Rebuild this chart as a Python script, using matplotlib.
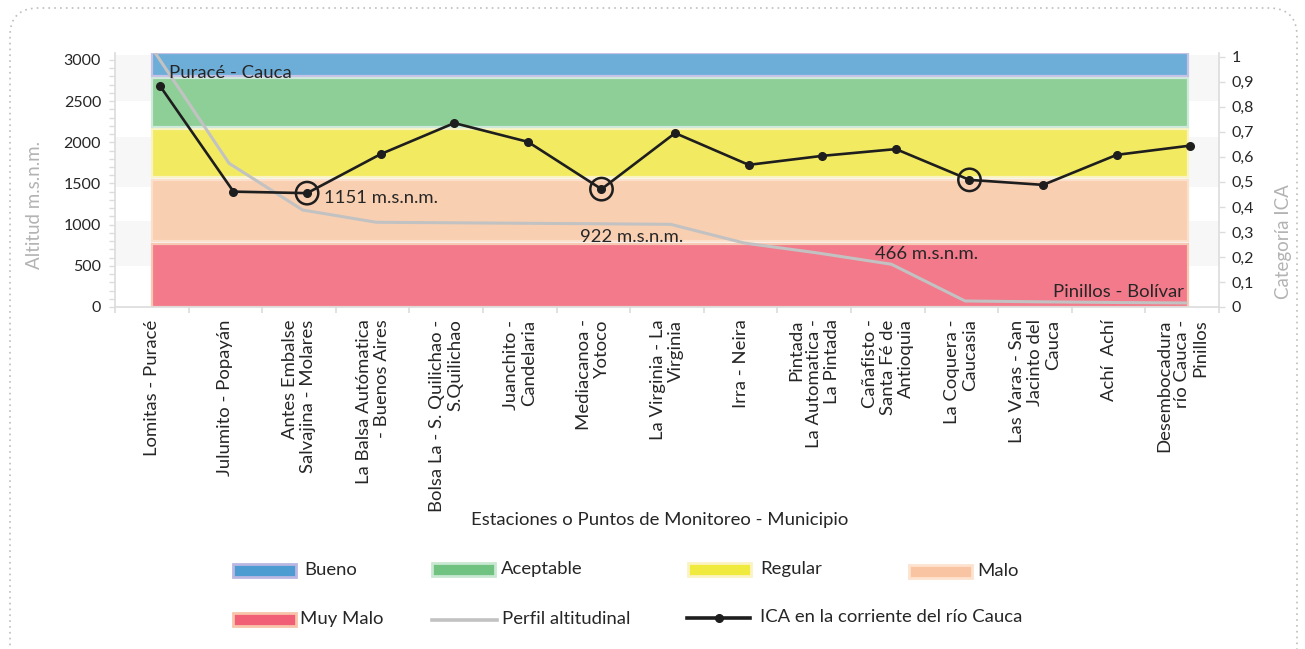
import matplotlib
matplotlib.use('Agg')
import matplotlib.pyplot as plt
import numpy as np
from matplotlib.patches import Rectangle, FancyBboxPatch
from matplotlib.lines import Line2D
from matplotlib.transforms import IdentityTransform
from matplotlib.ticker import MultipleLocator, FixedLocator

plt.rcParams['font.family'] = ['Lato', 'DejaVu Sans']

# ---------------- data ----------------
stations = [
    "Lomitas - Puracé",
    "Julumito - Popayán",
    "Antes Embalse\nSalvajina - Molares",
    "La Balsa Autómatica\n- Buenos Aires",
    "Bolsa La - S. Quilichao -\nS.Quilichao",
    "Juanchito -\nCandelaria",
    "Mediacanoa -\nYotoco",
    "La Virginia - La\nVirginia",
    "Irra - Neira",
    "Pintada\nLa Automatica -\nLa Pintada",
    "Cañafisto -\nSanta Fé de\nAntioquia",
    "La Coquera -\nCaucasia",
    "Las Varas - San\nJacinto del\nCauca",
    "Achí  Achí",
    "Desembocadura\nrío Cauca -\nPinillos",
]
altitud = [3081, 1745, 1178, 1029, 1023, 1017, 1011, 1004, 777, 656, 519, 73, 63, 55, 49]
ica = [0.884, 0.461, 0.455, 0.611, 0.735, 0.660, 0.471, 0.695, 0.568, 0.604,
       0.631, 0.508, 0.488, 0.608, 0.645]
highlight = [2, 6, 11]

cat_names = ["Muy Malo", "Malo", "Regular", "Aceptable", "Bueno"]
cat_low = [0.00, 0.26, 0.51, 0.71, 0.91]
cat_high = [0.25, 0.50, 0.70, 0.90, 1.00]

ann_texts = ["Puracé - Cauca", "1151 m.s.n.m.", "922 m.s.n.m.", "466 m.s.n.m.", "Pinillos - Bolívar"]
ann_index = [0, 2, 6, 10, 14]

alt_ticks = [0, 500, 1000, 1500, 2000, 2500, 3000]
ica_ticks = [0, 0.1, 0.2, 0.3, 0.4, 0.5, 0.6, 0.7, 0.8, 0.9, 1.0]
ica_ticklabels = ["0", "0,1", "0,2", "0,3", "0,4", "0,5", "0,6", "0,7", "0,8", "0,9", "1"]

# ---------------- styles ----------------
band_fill = ["#f27a8a", "#f9cfb2", "#f2eb62", "#8ecf98", "#6daed9"]
band_edge = ["#f8c9b2", "#fbe0cc", "#faf4c4", "#cfeadb", "#c6c3e6"]
leg_fill = ["#f05f76", "#f9c4a2", "#f0ea3e", "#6fc27f", "#4c9bd1"]
leg_edge = ["#f8c4aa", "#fde2cf", "#fbf3c2", "#c9e8d2", "#bab7e2"]
text_c = "#262626"
axis_c = "#dcdcdc"
title_c = "#b3b3b3"
FS = 13.3

W, H = 1305, 649
fig = plt.figure(figsize=(W / 100, H / 100), dpi=100)
fig.patch.set_facecolor("white")

def fx(x):
    return x / W

def fy(y):
    return 1 - y / H

ax = fig.add_axes([fx(115), fy(307), (1219 - 115) / W, (307 - 53) / H])
ax.set_facecolor("none")
ax2 = ax.twinx()

n = len(stations)
xs = np.arange(n)

# background light stripes (axes fraction)
for lo, hi in [(0.161, 0.340), (0.471, 0.668), (0.812, 0.992)]:
    ax.add_patch(Rectangle((0, lo), 1, hi - lo, transform=ax.transAxes,
                           facecolor="#f7f7f7", lw=0, zorder=0.2))

# category bands in axes-fraction heights
xtr = ax.get_xaxis_transform()
for lo, hi, fc, ec in zip(cat_low, cat_high, band_fill, band_edge):
    ax.add_patch(Rectangle((0.0, lo), 14.08, hi - lo, transform=xtr,
                           facecolor=fc, edgecolor=ec, lw=1.6, zorder=1))

# altitude profile
alt_x = xs + 0.05
ax.plot(alt_x, altitud, color="#c2c2c2", lw=2.2, zorder=3, solid_joinstyle="round")
ax.set_xlim(-0.5, n - 0.5)
ax.set_ylim(0, 3085)

# ICA line
ica_x = xs + 0.11
ax2.plot(ica_x, ica, color="#1e1e1e", lw=1.9, marker="o", ms=5.5, zorder=5)
ax2.scatter([ica_x[i] for i in highlight], [ica[i] for i in highlight], s=260,
            facecolors="none", edgecolors="#1e1e1e", linewidths=1.8, zorder=6)
ax2.set_ylim(0, 1.015)

# annotations
offsets = [(10, -14.5), (15.5, 8.6), (-12.2, -9.4), (-12.2, 7.2), (-1.4, 7.9)]
has = ["left", "left", "left", "left", "right"]
for t, i, off, ha in zip(ann_texts, ann_index, offsets, has):
    ax.annotate(t, xy=(alt_x[i], altitud[i]), xytext=off, textcoords="offset points",
                ha=ha, va="center", fontsize=FS, color=text_c, zorder=7)

# axes styling
ax.spines["top"].set_visible(False)
ax2.spines["top"].set_visible(False)
ax.spines["right"].set_visible(False)
ax2.spines["left"].set_visible(False)
ax2.spines["bottom"].set_visible(False)
ax.spines["left"].set_color(axis_c)
ax.spines["bottom"].set_color(axis_c)
ax2.spines["right"].set_color(axis_c)
for s in (ax.spines["left"], ax.spines["bottom"], ax2.spines["right"]):
    s.set_linewidth(1.2)

ax.yaxis.set_major_locator(FixedLocator(alt_ticks))
ax.yaxis.set_minor_locator(MultipleLocator(100))
ax.tick_params(axis="y", which="major", length=4, width=1, color=axis_c,
               labelsize=11.5, labelcolor=text_c, pad=6)
ax.tick_params(axis="y", which="minor", length=4, width=1, color=axis_c)

ax.set_xticks(xs)
ax.set_xticklabels(stations, rotation=90, ha="center", va="top",
                   multialignment="right", fontsize=FS, color=text_c,
                   linespacing=1.15)
ax.set_xticks(np.arange(-0.5, n, 1.0), minor=True)
ax.tick_params(axis="x", which="major", length=0, pad=9)
ax.tick_params(axis="x", which="minor", length=4, width=1.2, color=axis_c)

ax2.set_yticks(ica_ticks)
ax2.set_yticklabels(ica_ticklabels)
ax2.tick_params(axis="y", length=4, width=1, color=axis_c, labelsize=11.5,
                labelcolor=text_c, pad=5)

# axis titles
fig.text(fx(35), fy(205), "Altitud m.s.n.m.", rotation=90, ha="center", va="center",
         fontsize=13.5, color=title_c)
fig.text(fx(1283), fy(242), "Categoría ICA", rotation=90, ha="center", va="center",
         fontsize=13.5, color=title_c)
fig.text(fx(660), fy(520), "Estaciones o Puntos de Monitoreo - Municipio",
         ha="center", va="center", fontsize=FS, color=text_c)

# legend (manual layout)
leg_patch_pos = {"Bueno": (233, 570, 304), "Aceptable": (432, 569, 501),
                 "Regular": (688, 569, 760), "Malo": (909, 571, 977),
                 "Muy Malo": (233, 619, 300)}
for name, fc, ec in zip(cat_names, leg_fill, leg_edge):
    x0, yc, tx = leg_patch_pos[name]
    fig.add_artist(Rectangle((fx(x0), fy(yc + 6.5)), 63 / W, 13 / H,
                             transform=fig.transFigure, facecolor=fc,
                             edgecolor=ec, lw=2))
    fig.text(fx(tx), fy(yc), name, ha="left", va="center", fontsize=FS, color=text_c)

fig.add_artist(Line2D([fx(432), fx(497)], [fy(620), fy(620)], transform=fig.transFigure,
                      color="#c2c2c2", lw=2.6))
fig.text(fx(502), fy(619), "Perfil altitudinal", ha="left", va="center",
         fontsize=FS, color=text_c)
fig.add_artist(Line2D([fx(687), fx(750)], [fy(618), fy(618)], transform=fig.transFigure,
                      color="#1e1e1e", lw=2.6))
fig.add_artist(Line2D([fx(718.5)], [fy(618)], transform=fig.transFigure,
                      color="#1e1e1e", marker="o", ms=5.5, lw=0))
fig.text(fx(760), fy(617), "ICA en la corriente del río Cauca", ha="left",
         va="center", fontsize=FS, color=text_c)

# dotted rounded frame
frame = FancyBboxPatch((10, -40), 1287, H - 8 + 40,
                       boxstyle="round,pad=0,rounding_size=28",
                       transform=IdentityTransform(), fill=False,
                       edgecolor="#bdbdbd", lw=1.2, linestyle=(0, (1, 2.5)))
fig.add_artist(frame)

fig.savefig("out.png", dpi=100)
